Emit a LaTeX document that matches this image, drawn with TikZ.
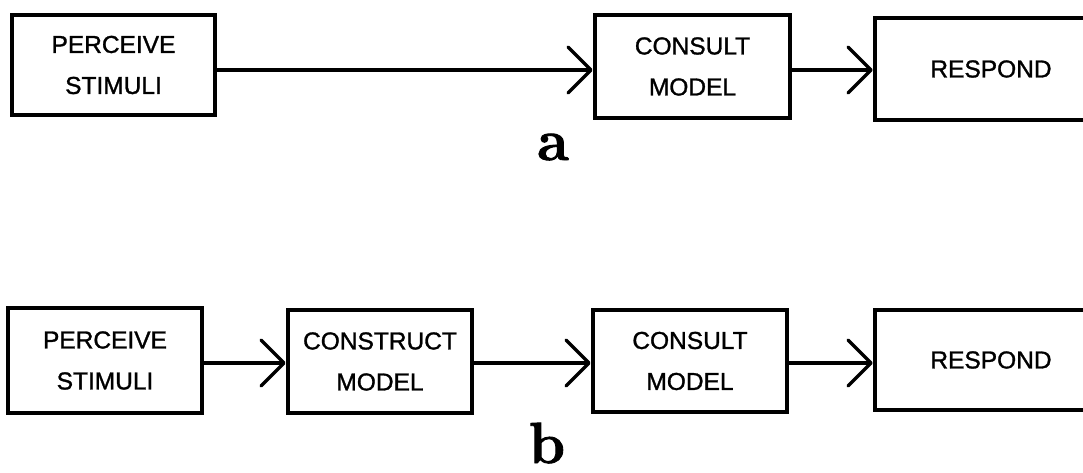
\documentclass[tikz,border=0pt]{standalone}
\usepackage{fontspec}
\setmainfont{Liberation Sans}[FakeBold=1.2]
\newfontfamily\panelfont{Latin Modern Roman}[FakeBold=1.5]
\usetikzlibrary{arrows.meta}
\begin{document}
\begin{tikzpicture}[x=1pt,y=1pt,
  stage/.style={draw, line width=4.5pt, align=center, inner sep=0pt,
    font=\fontsize{24.5}{41}\selectfont},
  flow/.style={line width=3.5pt, -{Straight Barb[length=23pt,width=46pt,round]}},
  panel/.style={font=\fontsize{58}{58}\panelfont\bfseries, anchor=base, inner sep=0pt}
]
\useasboundingbox (0,0) rectangle (1083,472);
\clip (0,0) rectangle (1083,472);

% row a: perceive -> consult -> respond
\node[stage, minimum width=203pt, minimum height=100pt] (a1) at (113.5,407) {PERCEIVE\\STIMULI};
\node[stage, minimum width=195pt, minimum height=103pt] (a2) at (692.5,405.5) {CONSULT\\MODEL};
\node[stage, minimum width=232pt, minimum height=102pt] (a3) at (991,403) {RESPOND};
\draw[flow] ([yshift=-5pt]a1.east) -- ([yshift=-3.5pt]a2.west);
\draw[flow] ([yshift=-3.5pt]a2.east) -- ([yshift=-1pt]a3.west);
\node[panel] (la) at (553,312) {a};

% row b: perceive -> construct -> consult -> respond
\node[stage, minimum width=194pt, minimum height=105pt] (b1) at (105,111.5) {PERCEIVE\\STIMULI};
\node[stage, minimum width=184pt, minimum height=103pt] (b2) at (380,110.5) {CONSTRUCT\\MODEL};
\node[stage, minimum width=194pt, minimum height=102pt] (b3) at (690,111) {CONSULT\\MODEL};
\node[stage, minimum width=232pt, minimum height=100pt] (b4) at (991,112) {RESPOND};
\draw[flow] ([yshift=-2.5pt]b1.east) -- ([yshift=-1.5pt]b2.west);
\draw[flow] ([yshift=-1.5pt]b2.east) -- ([yshift=-2pt]b3.west);
\draw[flow] ([yshift=-2pt]b3.east) -- ([yshift=-3pt]b4.west);
\node[panel] (lb) at (547,9) {b};
\end{tikzpicture}
\end{document}
